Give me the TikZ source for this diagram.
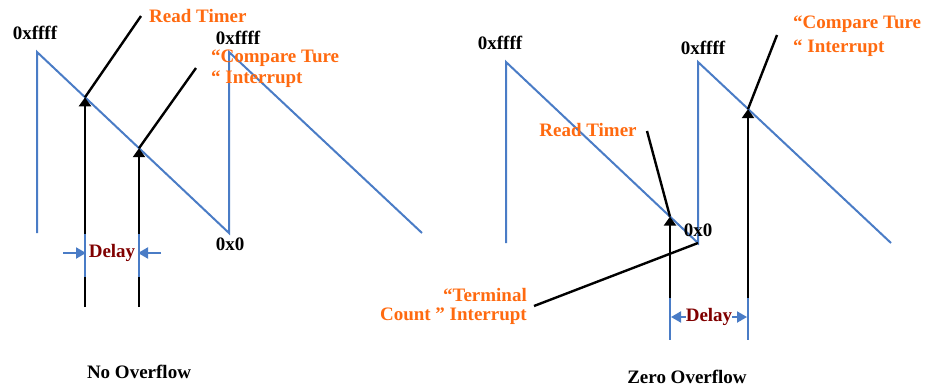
\documentclass[tikz,border=0pt]{standalone}
\usepackage{fontspec}
\setmainfont{Liberation Serif}
\usetikzlibrary{arrows.meta}
\definecolor{saw}{HTML}{4A7CC6}
\definecolor{lbl}{HTML}{FF6A10}
\definecolor{dly}{HTML}{800000}
\tikzset{
  sawline/.style={draw=saw, line width=2pt, line join=miter},
  ptr/.style={draw=black, line width=2.4pt, -{Triangle[length=9pt,width=12pt]}},
  leader/.style={draw=black, line width=2.4pt},
  dmark/.style={draw=saw, line width=2.4pt},
  darr/.style={draw=saw, line width=2pt, -{Triangle[length=10pt,width=11pt]}},
  val/.style={font=\fontsize{19}{22}\selectfont\bfseries, text=black, inner sep=0pt},
  note/.style={font=\fontsize{19}{22}\selectfont\bfseries, text=lbl, inner sep=0pt},
  dtxt/.style={font=\fontsize{19}{22}\selectfont\bfseries, text=dly, inner sep=0pt},
  captxt/.style={font=\fontsize{19}{22}\selectfont\bfseries, text=black, inner sep=0pt},
}
\begin{document}
\begin{tikzpicture}[x=1pt,y=-1pt]
\useasboundingbox (0,0) rectangle (934,389);
% ---------- left: No Overflow ----------
\coordinate (a1) at (37,233);
\coordinate (a2) at (37,52);
\coordinate (a3) at (229,233);
\coordinate (a4) at (229,52);
\coordinate (a5) at (422,233);
\draw[sawline] (a1) -- (a2) -- (a3) -- (a4) -- (a5);
\coordinate (p1) at (85,97.3);
\coordinate (p2) at (139,148.2);
\coordinate (b1) at (85,307);
\coordinate (b2) at (139,307);
\coordinate (l1) at (141,16);
\coordinate (l2) at (196,68);
\draw[leader] (l1) -- (p1);
\draw[leader] (l2) -- (p2);
\draw[ptr] (b1) -- (p1);
\draw[ptr] (b2) -- (p2);
\coordinate (m1t) at (85,234);
\coordinate (m1b) at (85,277);
\coordinate (m2t) at (139,234);
\coordinate (m2b) at (139,277);
\draw[dmark] (m1t) -- (m1b);
\draw[dmark] (m2t) -- (m2b);
\coordinate (e1) at (63,253);
\coordinate (e2) at (161,253);
\coordinate (h1) at (86,253);
\coordinate (h2) at (138,253);
\draw[darr] (e1) -- (h1);
\draw[darr] (e2) -- (h2);
\node[dtxt] (dl) at (112,253) {Delay};
\node[val] (fl1) at (35,33) {0xffff};
\node[val] (fl2) at (238,38) {0xffff};
\node[val] (zl) at (230,244) {0x0};
\node[note, anchor=west] (rtl) at (149,16) {Read Timer};
\node[note, anchor=west] (ctl1) at (211,58) {“Compare Ture};
\node[note, anchor=west] (ctl2) at (211,79) {“ Interrupt};
\node[captxt] (nol) at (139,372) {No Overflow};
% ---------- right: Zero Overflow ----------
\coordinate (c1) at (506,243);
\coordinate (c2) at (506,62);
\coordinate (c3) at (698,243);
\coordinate (c4) at (698,62);
\coordinate (c5) at (891,243);
\draw[sawline] (c1) -- (c2) -- (c3) -- (c4) -- (c5);
\coordinate (p3) at (748,109.1);
\coordinate (p4) at (670,216.6);
\coordinate (b3) at (748,298);
\coordinate (b4) at (670,298);
\coordinate (l3) at (777,35);
\coordinate (l4) at (647,131);
\coordinate (l5) at (534,306);
\draw[leader] (l3) -- (p3);
\draw[leader] (l4) -- (p4);
\draw[leader] (c3) -- (l5);
\draw[ptr] (b3) -- (p3);
\draw[ptr] (b4) -- (p4);
\coordinate (m3b) at (748,340);
\coordinate (m4b) at (670,340);
\draw[dmark] (b3) -- (m3b);
\draw[dmark] (b4) -- (m4b);
\node[dtxt] (dr) at (709,317) {Delay};
\coordinate (g1) at (671,317);
\coordinate (g2) at (747,317);
\draw[darr] (dr.west) -- (g1);
\draw[darr] (dr.east) -- (g2);
\node[val] (fr1) at (500,43) {0xffff};
\node[val] (fr2) at (703,48) {0xffff};
\node[val] (zr) at (698,230) {0x0};
\node[note, anchor=west] (ctr1) at (793,24) {“Compare Ture};
\node[note, anchor=west] (ctr2) at (793,48) {“ Interrupt};
\node[note] (rtr) at (588,130) {Read Timer};
\node[note, anchor=east] (tcr1) at (527,295) {“Terminal};
\node[note, anchor=east] (tcr2) at (527,316) {Count ” Interrupt};
\node[captxt] (zol) at (687,377) {Zero Overflow};
\end{tikzpicture}
\end{document}
